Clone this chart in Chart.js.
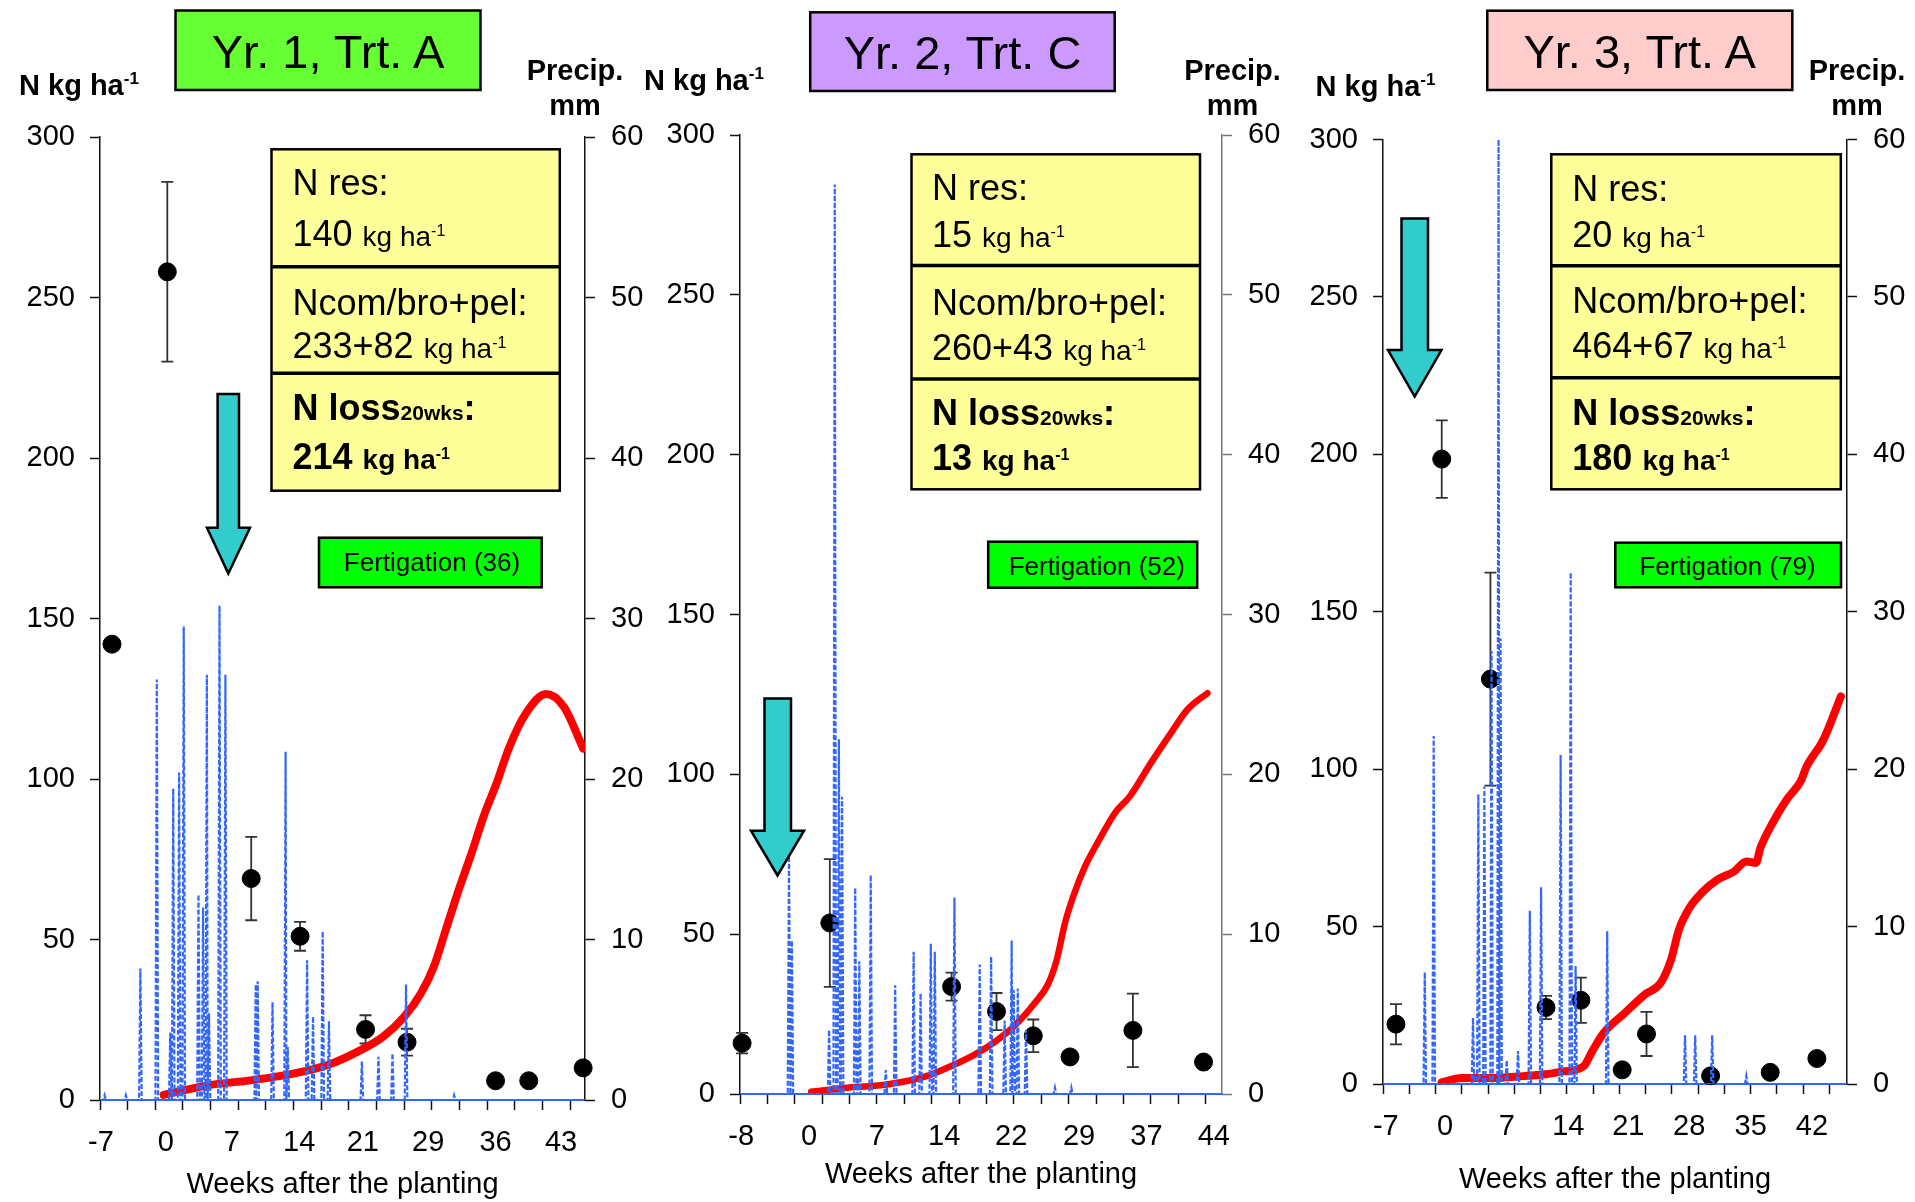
<!DOCTYPE html>
<html>
<head>
<meta charset="utf-8">
<title>N dynamics, three seasons</title>
<script src="https://cdn.jsdelivr.net/npm/chart.js@4.4.1/dist/chart.umd.min.js"></script>
<style>
  html, body { margin: 0; padding: 0; background: #fff; }
  #page { position: relative; width: 1915px; height: 1202px; overflow: hidden; }
  #page canvas { position: absolute; left: 0; top: 0; }
  #notes { position: absolute; left: 0; top: 0; font-family: "Liberation Sans", Arial, sans-serif; }
</style>
</head>
<body>
<div id="page">
  <canvas id="c1" width="1915" height="1202"></canvas>
  <canvas id="c2" width="1915" height="1202"></canvas>
  <canvas id="c3" width="1915" height="1202"></canvas>

  <svg id="notes" width="1915" height="1202">
    <!-- Yr. 1 -->
    <rect x="175.5" y="10.5" width="305" height="79.5" fill="#66ff33" stroke="#000" stroke-width="2.5"/>
    <text x="328" y="68" text-anchor="middle" font-size="47">Yr. 1, Trt. A</text>
    <text x="19" y="95" font-size="29" font-weight="bold">N kg ha<tspan font-size="17" dy="-11">-1</tspan></text>
    <text x="575" y="80" text-anchor="middle" font-size="29" font-weight="bold">Precip.</text>
    <text x="575" y="115" text-anchor="middle" font-size="29" font-weight="bold">mm</text>
    <rect x="271.5" y="149.3" width="288.3" height="341.4" fill="#ffff99" stroke="#000" stroke-width="2.5"/>
    <line x1="271.5" y1="266.7" x2="559.8" y2="266.7" stroke="#000" stroke-width="3.5"/>
    <line x1="271.5" y1="373.3" x2="559.8" y2="373.3" stroke="#000" stroke-width="3.5"/>
    <text x="292.5" y="195" font-size="36">N res:</text>
    <text x="292.5" y="245.7" font-size="36">140 <tspan font-size="28">kg ha</tspan><tspan font-size="16" dy="-10">-1</tspan></text>
    <text x="292.5" y="315" font-size="36">Ncom/bro+pel:</text>
    <text x="292.5" y="358.3" font-size="36">233+82 <tspan font-size="28">kg ha</tspan><tspan font-size="16" dy="-10">-1</tspan></text>
    <text x="292.5" y="420" font-size="36" font-weight="bold">N loss<tspan font-size="21">20wks</tspan>:</text>
    <text x="292.5" y="469.3" font-size="36" font-weight="bold">214 <tspan font-size="28">kg ha</tspan><tspan font-size="16" dy="-10">-1</tspan></text>
    <rect x="319" y="537.7" width="222.7" height="49.6" fill="#00ff00" stroke="#000" stroke-width="2.5"/>
    <text x="432" y="571" text-anchor="middle" font-size="26">Fertigation (36)</text>
    <polygon points="217.6,394 239,394 239,527.7 250,527.7 228.3,573.5 207,527.7 217.6,527.7" fill="#33cccc" stroke="#000" stroke-width="2.5"/>

    <!-- Yr. 2 -->
    <rect x="810.2" y="12.3" width="304.5" height="78.7" fill="#cc99ff" stroke="#000" stroke-width="2.5"/>
    <text x="962.5" y="69" text-anchor="middle" font-size="47">Yr. 2, Trt. C</text>
    <text x="644" y="90" font-size="29" font-weight="bold">N kg ha<tspan font-size="17" dy="-11">-1</tspan></text>
    <text x="1232.5" y="80" text-anchor="middle" font-size="29" font-weight="bold">Precip.</text>
    <text x="1232.5" y="115" text-anchor="middle" font-size="29" font-weight="bold">mm</text>
    <rect x="911.5" y="154.3" width="288.5" height="335" fill="#ffff99" stroke="#000" stroke-width="2.5"/>
    <line x1="911.5" y1="265.5" x2="1200" y2="265.5" stroke="#000" stroke-width="3.5"/>
    <line x1="911.5" y1="379" x2="1200" y2="379" stroke="#000" stroke-width="3.5"/>
    <text x="932" y="200" font-size="36">N res:</text>
    <text x="932" y="246.7" font-size="36">15 <tspan font-size="28">kg ha</tspan><tspan font-size="16" dy="-10">-1</tspan></text>
    <text x="932" y="315" font-size="36">Ncom/bro+pel:</text>
    <text x="932" y="360" font-size="36">260+43 <tspan font-size="28">kg ha</tspan><tspan font-size="16" dy="-10">-1</tspan></text>
    <text x="932" y="425" font-size="36" font-weight="bold">N loss<tspan font-size="21">20wks</tspan>:</text>
    <text x="932" y="470" font-size="36" font-weight="bold">13 <tspan font-size="28">kg ha</tspan><tspan font-size="16" dy="-10">-1</tspan></text>
    <rect x="988.2" y="541.7" width="209" height="46" fill="#00ff00" stroke="#000" stroke-width="2.5"/>
    <text x="1096.8" y="575" text-anchor="middle" font-size="26">Fertigation (52)</text>
    <polygon points="764.5,698.5 791,698.5 791,830.7 804,830.7 777.5,875.5 751,830.7 764.5,830.7" fill="#33cccc" stroke="#000" stroke-width="2.5"/>

    <!-- Yr. 3 -->
    <rect x="1487.3" y="10.7" width="305" height="79.3" fill="#ffcccc" stroke="#000" stroke-width="2.5"/>
    <text x="1639.7" y="68" text-anchor="middle" font-size="47">Yr. 3, Trt. A</text>
    <text x="1315.6" y="96" font-size="29" font-weight="bold">N kg ha<tspan font-size="17" dy="-11">-1</tspan></text>
    <text x="1857" y="80" text-anchor="middle" font-size="29" font-weight="bold">Precip.</text>
    <text x="1857" y="115" text-anchor="middle" font-size="29" font-weight="bold">mm</text>
    <rect x="1551.3" y="154.3" width="289.5" height="335" fill="#ffff99" stroke="#000" stroke-width="2.5"/>
    <line x1="1551.3" y1="265.7" x2="1840.8" y2="265.7" stroke="#000" stroke-width="3.5"/>
    <line x1="1551.3" y1="377.7" x2="1840.8" y2="377.7" stroke="#000" stroke-width="3.5"/>
    <text x="1572.3" y="201" font-size="36">N res:</text>
    <text x="1572.3" y="246.7" font-size="36">20 <tspan font-size="28">kg ha</tspan><tspan font-size="16" dy="-10">-1</tspan></text>
    <text x="1572.3" y="313.3" font-size="36">Ncom/bro+pel:</text>
    <text x="1572.3" y="358.3" font-size="36">464+67 <tspan font-size="28">kg ha</tspan><tspan font-size="16" dy="-10">-1</tspan></text>
    <text x="1572.3" y="425" font-size="36" font-weight="bold">N loss<tspan font-size="21">20wks</tspan>:</text>
    <text x="1572.3" y="470" font-size="36" font-weight="bold">180 <tspan font-size="28">kg ha</tspan><tspan font-size="16" dy="-10">-1</tspan></text>
    <rect x="1615.3" y="542.7" width="225.7" height="44.6" fill="#00ff00" stroke="#000" stroke-width="2.5"/>
    <text x="1727.6" y="575" text-anchor="middle" font-size="26">Fertigation (79)</text>
    <polygon points="1401.5,218.5 1428,218.5 1428,350 1441.5,350 1414.7,396.5 1388,350 1401.5,350" fill="#33cccc" stroke="#000" stroke-width="2.5"/>
  </svg>
</div>

<script>
// ---- Yr. 1, Trt. A ----
var p1NWeeks = [-5.7, 0.3, 9.4, 14.7, 21.8, 26.3, 35.9, 39.5, 45.4];
var p1NMean  = [142, 258, 69, 51, 22, 18, 6, 6, 10];
var p1NErr   = [0, 28, 13, 4.5, 4.4, 4.2, 0, 0, 2];
var p1CumWeeks = [-0.1, 5.0, 9.5, 14.1, 17.7, 20.9, 23.7, 26.0, 27.8, 29.2, 30.5, 31.9, 33.3, 34.6, 36.0, 37.4, 39.2, 41.4, 43.3, 45.4];
var p1CumN     = [1.6, 4.7, 6.2, 8.3, 10.9, 15.0, 19.7, 26.0, 33.2, 41.5, 53.0, 65.4, 76.9, 88.3, 98.6, 110, 120.5, 126.5, 122.5, 109.5];
var p1RainWeeks = [-6.5, -4.2, -2.62, -0.84, 0.62, 0.94, 1.58, 2.08, 3.68, 4.18, 4.59, 4.82, 5.96, 6.6, 9.89, 10.1, 11.71, 13.13, 13.36, 15.46, 16.1, 17.15, 17.83, 21.4, 23.2, 24.72, 26.19, 31.4];
var p1RainMm    = [0.3, 0.3, 8.2, 26.2, 4.2, 19.4, 20.4, 29.5, 12.8, 12.0, 26.5, 5.4, 30.8, 26.5, 7.2, 7.4, 6.1, 21.7, 3.3, 8.7, 5.2, 10.5, 4.9, 2.4, 2.7, 2.9, 7.2, 0.3];
var p1TickPos  = [-6.9, 0.15, 7.3, 14.6, 21.5, 28.6, 35.9, 43.0];
var p1TickText = ['-7', '0', '7', '14', '21', '29', '36', '43'];

// ---- Yr. 2, Trt. C ----
var p2NWeeks = [-7.77, 1.84, 15.18, 20.1, 24.13, 28.15, 35.04, 42.78];
var p2NMean  = [15.9, 53.5, 33.6, 25.8, 18.2, 11.6, 19.9, 10.0];
var p2NErr   = [3.2, 20, 4.4, 5.8, 5.1, 0, 11.5, 0];
var p2CumWeeks = [-0.2, 3.4, 7.9, 12.35, 15.5, 17.7, 20.0, 22.2, 24.45, 25.8, 26.7, 27.6, 28.5, 29.8, 31.15, 33.2, 34.7, 37.0, 39.2, 41.0, 43.2];
var p2CumN     = [0.7, 1.9, 2.9, 5.5, 9.2, 12.3, 16.5, 21.7, 29.0, 34.7, 42.0, 53.5, 61.8, 71.2, 78.5, 88.4, 93.1, 103.5, 112.9, 120.2, 125.4];
var p2RainWeeks = [-2.63, -2.32, 1.76, 2.38, 2.83, 3.18, 4.62, 5.07, 6.32, 7.97, 9.0, 11.02, 11.78, 12.9, 13.34, 15.49, 18.26, 19.51, 20.99, 21.76, 21.98, 22.43, 23.33, 26.5, 28.3];
var p2RainMm    = [14.9, 9.6, 4.0, 56.9, 22.2, 18.6, 12.9, 8.3, 13.7, 1.5, 6.8, 8.9, 6.3, 9.4, 8.9, 12.3, 8.1, 8.6, 4.6, 9.6, 6.5, 6.6, 4.0, 0.4, 0.4];
var p2TickPos  = [-7.87, -0.44, 6.99, 14.37, 21.71, 29.14, 36.52, 43.9];
var p2TickText = ['-8', '0', '7', '14', '22', '29', '37', '44'];

// ---- Yr. 3, Trt. A ----
var p3NWeeks = [-5.52, -0.29, 5.27, 11.62, 15.6, 20.32, 23.1, 30.42, 37.23, 42.56];
var p3NMean  = [19.0, 198.5, 128.6, 24.3, 26.6, 4.5, 15.9, 2.6, 3.7, 8.1];
var p3NErr   = [6.4, 12.3, 33.8, 3.7, 7.2, 0, 7.0, 0, 0, 2.0];
var p3CumWeeks = [-0.3, 2.0, 5.3, 9.0, 11.3, 13.6, 15.9, 16.9, 18.2, 20.6, 22.9, 24.7, 25.9, 26.8, 28.0, 29.4, 31.2, 33.1, 34.5, 35.6, 36.1, 37.5, 39.1, 40.7, 41.4, 43.3, 45.3];
var p3CumN     = [0.5, 1.9, 1.9, 2.5, 3.0, 4.0, 5.6, 10.4, 16.2, 22.5, 28.4, 32.1, 39.5, 49.0, 55.9, 60.7, 64.9, 67.5, 70.7, 70.2, 74.9, 82.9, 90.3, 96.1, 100.9, 109.3, 123.1];
var p3RainWeeks = [-2.23, -1.21, 3.28, 3.89, 4.58, 5.4, 6.2, 6.43, 7.13, 8.42, 9.77, 11.06, 13.29, 14.44, 15.0, 18.61, 27.5, 28.66, 30.6, 34.5];
var p3RainMm    = [7.1, 22.1, 4.2, 18.4, 18.9, 27.5, 60, 28.3, 1.5, 2.1, 11.0, 12.5, 20.9, 32.5, 7.5, 9.7, 3.1, 3.1, 3.1, 0.5];
var p3TickPos  = [-6.68, 0.09, 7.13, 14.17, 21.02, 27.97, 35.0, 42.0];
var p3TickText = ['-7', '0', '7', '14', '21', '28', '35', '42'];

var FONT = '"Liberation Sans", Arial, sans-serif';
Chart.defaults.font.family = FONT;
Chart.defaults.color = '#000';

function pairs(xs, ys) {
    return xs.map(function (x, i) { return { x: x, y: ys[i] }; });
}

// daily rain: zero on the days either side of each wet day
function rainLine(weeks, mm, xMin, xMax) {
    var day = 1 / 7;
    var pts = [{ x: xMin, y: 0 }];
    weeks.forEach(function (w, i) {
        if (w - day > pts[pts.length - 1].x) pts.push({ x: w - day, y: 0 });
        pts.push({ x: w, y: mm[i] });
        var next = i + 1 < weeks.length ? weeks[i + 1] : xMax + 1;
        if (w + day < next - day) pts.push({ x: w + day, y: 0 });
    });
    pts.push({ x: xMax, y: 0 });
    return pts;
}

/* error bars on the N points */
var errorBars = {
    id: 'errorBars',
    beforeDatasetsDraw: function (chart) {
        var ctx = chart.ctx, ys = chart.scales.y;
        chart.data.datasets.forEach(function (ds, di) {
            if (!ds.errors) return;
            var meta = chart.getDatasetMeta(di);
            ctx.save();
            ctx.strokeStyle = '#333';
            ctx.lineWidth = 1.8;
            meta.data.forEach(function (pt, i) {
                var e = ds.errors[i];
                if (!e) return;
                var v = ds.data[i].y;
                var top = ys.getPixelForValue(v + e), bot = ys.getPixelForValue(v - e);
                ctx.beginPath();
                ctx.moveTo(pt.x, top); ctx.lineTo(pt.x, bot);
                ctx.moveTo(pt.x - 6, top); ctx.lineTo(pt.x + 6, top);
                ctx.moveTo(pt.x - 6, bot); ctx.lineTo(pt.x + 6, bot);
                ctx.stroke();
            });
            ctx.restore();
        });
    }
};

function drawPanel(id, d, g) {
    var marks = [];
    for (var t = d.xMin; t <= d.xMax + 1e-9; t += 3) marks.push(t);
    var allTicks = marks.concat(d.tickPos.filter(function (p) { return marks.indexOf(p) < 0; }))
        .sort(function (a, b) { return a - b; });

    new Chart(document.getElementById(id), {
        type: 'scatter',
        data: {
            datasets: [
                {
                    type: 'line', label: 'Precip.',
                    data: rainLine(d.rainWeeks, d.rainMm, d.xMin, d.xMax),
                    yAxisID: 'y1', borderColor: '#3366ff', borderWidth: 2.2,
                    borderDash: [5, 2], pointRadius: 0, tension: 0, order: 0
                },
                {
                    type: 'scatter', label: 'Soil N',
                    data: pairs(d.nWeeks, d.nMean), errors: d.nErr,
                    yAxisID: 'y', pointRadius: 9, pointBackgroundColor: '#000',
                    pointBorderColor: '#000', order: 1, clip: false
                },
                {
                    type: 'line', label: 'Cumulative N',
                    data: pairs(d.cumWeeks, d.cumN),
                    yAxisID: 'y', borderColor: '#ff0000', borderWidth: g.redW,
                    pointRadius: 0, cubicInterpolationMode: 'monotone',
                    borderCapStyle: 'round', borderJoinStyle: 'round', order: 2
                }
            ]
        },
        options: {
            responsive: false,
            animation: false,
            devicePixelRatio: 1,
            layout: {
                padding: {
                    left: g.left - 95,
                    right: 1915 - g.right - 65,
                    top: g.top,
                    bottom: 1202 - g.bottom - g.xAxisH
                }
            },
            plugins: { legend: { display: false }, tooltip: { enabled: false } },
            scales: {
                x: {
                    type: 'linear', bounds: 'data', min: d.xMin, max: d.xMax,
                    afterBuildTicks: function (s) {
                        s.ticks = allTicks.map(function (v) { return { value: v }; });
                    },
                    afterFit: function (s) { s.height = g.xAxisH; },
                    grid: {
                        drawOnChartArea: false, tickLength: 10, tickWidth: 1.5,
                        tickColor: function (c) {
                            return c.tick && marks.indexOf(c.tick.value) >= 0 ? '#111' : 'rgba(0,0,0,0)';
                        }
                    },
                    border: { color: '#3366ff', width: 2 },
                    ticks: {
                        autoSkip: false, maxRotation: 0, minRotation: 0, padding: 16,
                        font: { size: 29 },
                        callback: function (v) {
                            var i = d.tickPos.indexOf(v);
                            return i >= 0 ? d.tickText[i] : '';
                        }
                    },
                    title: {
                        display: true, text: 'Weeks after the planting',
                        font: { size: 29 }, padding: 0
                    }
                },
                y: {
                    type: 'linear', position: 'left', min: 0, max: 300,
                    afterFit: function (s) { s.width = 95; },
                    grid: { drawOnChartArea: false, tickLength: 10, tickWidth: 1.5, tickColor: '#111' },
                    border: { color: '#111', width: 1.5 },
                    ticks: { stepSize: 50, padding: 15, font: { size: 29 } }
                },
                y1: {
                    type: 'linear', position: 'right', min: 0, max: 60,
                    afterFit: function (s) { s.width = 65; },
                    grid: { drawOnChartArea: false, tickLength: 10, tickWidth: 1.5, tickColor: g.rightColor },
                    border: { color: g.rightColor, width: 1.5 },
                    ticks: { stepSize: 10, padding: 16, font: { size: 29 } }
                }
            }
        },
        plugins: [errorBars]
    });
}

drawPanel('c1', {
    xMin: -7, xMax: 45.6,
    nWeeks: p1NWeeks, nMean: p1NMean, nErr: p1NErr,
    cumWeeks: p1CumWeeks, cumN: p1CumN,
    rainWeeks: p1RainWeeks, rainMm: p1RainMm,
    tickPos: p1TickPos, tickText: p1TickText
}, { left: 100, right: 585, top: 137, bottom: 1100, xAxisH: 102, redW: 8, rightColor: '#111' });

drawPanel('c2', {
    xMin: -8, xMax: 44.8,
    nWeeks: p2NWeeks, nMean: p2NMean, nErr: p2NErr,
    cumWeeks: p2CumWeeks, cumN: p2CumN,
    rainWeeks: p2RainWeeks, rainMm: p2RainMm,
    tickPos: p2TickPos, tickText: p2TickText
}, { left: 740, right: 1222, top: 135, bottom: 1094, xAxisH: 98, redW: 6.5, rightColor: '#777' });

drawPanel('c3', {
    xMin: -7, xMax: 46.0,
    nWeeks: p3NWeeks, nMean: p3NMean, nErr: p3NErr,
    cumWeeks: p3CumWeeks, cumN: p3CumN,
    rainWeeks: p3RainWeeks, rainMm: p3RainMm,
    tickPos: p3TickPos, tickText: p3TickText
}, { left: 1383, right: 1847, top: 139.5, bottom: 1084, xAxisH: 113, redW: 8, rightColor: '#111' });
</script>
</body>
</html>
